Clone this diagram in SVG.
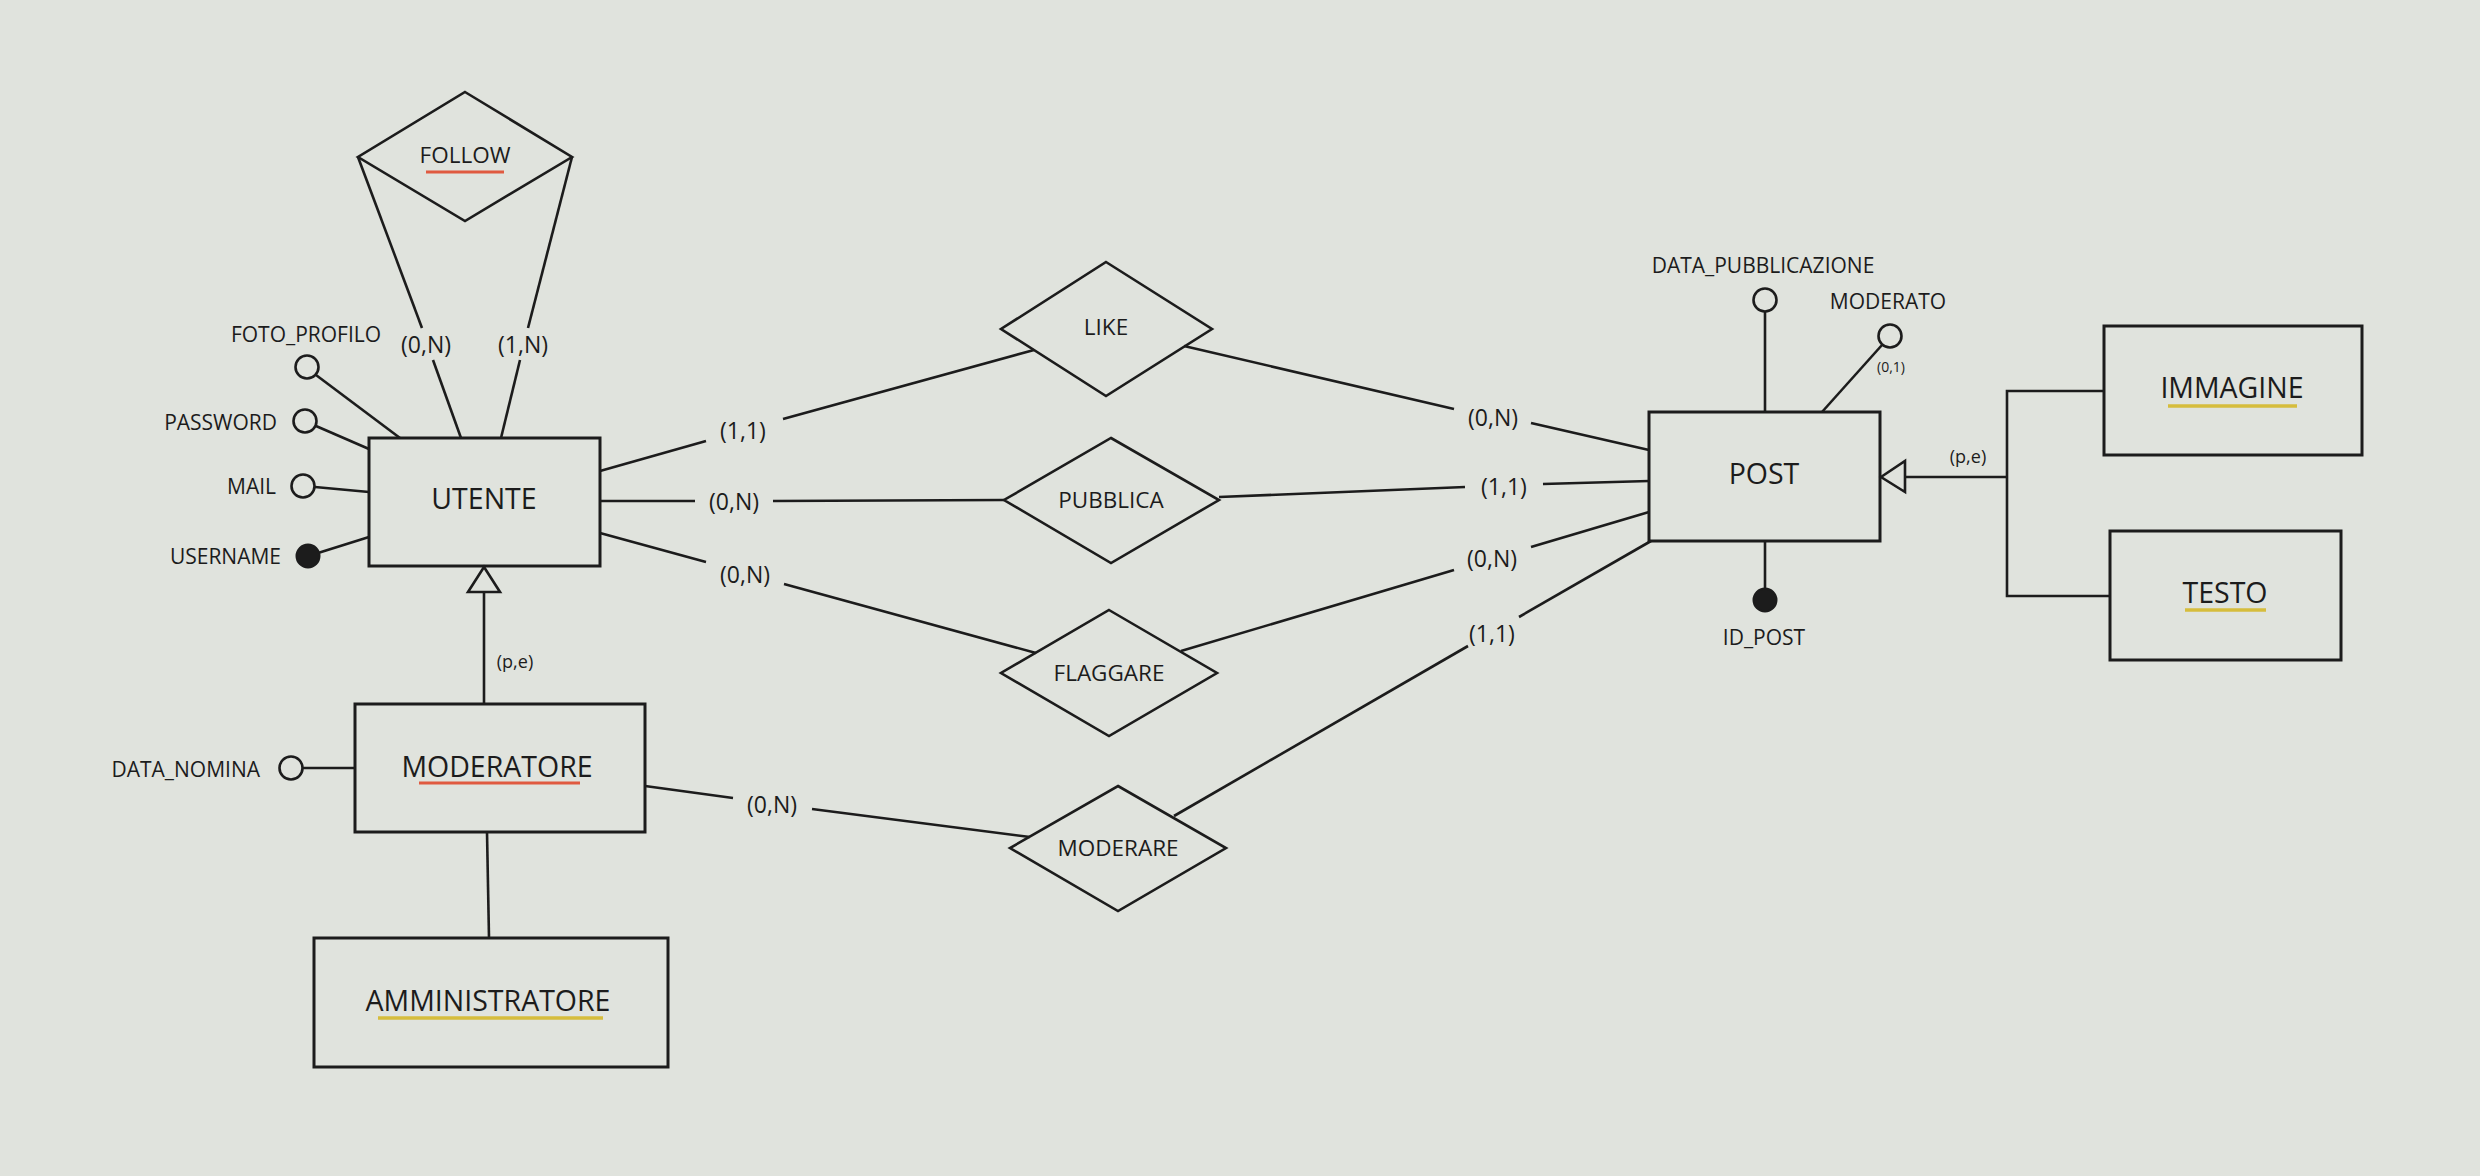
<svg xmlns="http://www.w3.org/2000/svg" width="2480" height="1176" viewBox="0 0 2480 1176">
  <style>
    text { font-family: "Open Sans", "Noto Sans", "Liberation Sans", sans-serif; fill: #1c1c1c; }
    .ent { fill: none; stroke: #1c1c1c; stroke-width: 3; }
    .rel { fill: none; stroke: #1c1c1c; stroke-width: 2.6; stroke-linejoin: miter; }
    .ln { fill: none; stroke: #1c1c1c; stroke-width: 2.6; }
    .attr { fill: none; stroke: #1c1c1c; stroke-width: 2.6; }
    .key { fill: #1c1c1c; stroke: #1c1c1c; stroke-width: 2; }
    .en { font-size: 28.5px; text-anchor: middle; }
    .rn { font-size: 22.5px; text-anchor: middle; }
    .an { font-size: 21px; }
    .card { font-size: 23px; text-anchor: middle; }
    .red { stroke: #e05a40; stroke-width: 3; }
    .yel { stroke: #d6bd3c; stroke-width: 3.5; }
  </style>
  <rect width="2480" height="1176" fill="#e0e3dd"/>

  <!-- connectors -->
  <g id="connectors">
    <!-- FOLLOW ring on UTENTE -->
    <line class="ln" x1="358" y1="157" x2="422" y2="328"/>
    <line class="ln" x1="433" y1="360" x2="461" y2="438"/>
    <line class="ln" x1="572" y1="157" x2="528" y2="328"/>
    <line class="ln" x1="520" y1="360" x2="501" y2="438"/>
    <!-- UTENTE - LIKE -->
    <line class="ln" x1="600" y1="471" x2="706" y2="441"/>
    <line class="ln" x1="783" y1="419" x2="1034" y2="350"/>
    <!-- LIKE - POST -->
    <line class="ln" x1="1184" y1="346" x2="1454" y2="409"/>
    <line class="ln" x1="1531" y1="423" x2="1649" y2="450"/>
    <!-- UTENTE - PUBBLICA -->
    <line class="ln" x1="600" y1="501" x2="695" y2="501"/>
    <line class="ln" x1="773" y1="501" x2="1004" y2="500"/>
    <!-- PUBBLICA - POST -->
    <line class="ln" x1="1219" y1="497" x2="1465" y2="487"/>
    <line class="ln" x1="1543" y1="484" x2="1649" y2="481"/>
    <!-- UTENTE - FLAGGARE -->
    <line class="ln" x1="600" y1="533" x2="706" y2="562"/>
    <line class="ln" x1="784" y1="584" x2="1036" y2="653"/>
    <!-- FLAGGARE - POST -->
    <line class="ln" x1="1181" y1="651" x2="1454" y2="570"/>
    <line class="ln" x1="1531" y1="547" x2="1649" y2="512"/>
    <!-- MODERATORE - MODERARE -->
    <line class="ln" x1="645" y1="786" x2="733" y2="798"/>
    <line class="ln" x1="812" y1="809" x2="1030" y2="837"/>
    <!-- MODERARE - POST -->
    <line class="ln" x1="1174" y1="816" x2="1468" y2="646"/>
    <line class="ln" x1="1519" y1="617" x2="1651" y2="541"/>
    <!-- UTENTE generalisation -->
    <line class="ln" x1="484" y1="592" x2="484" y2="704"/>
    <polygon class="ln" points="484,567 468,592 500,592"/>
    <!-- MODERATORE - AMMINISTRATORE -->
    <line class="ln" x1="487" y1="832" x2="489" y2="938"/>
    <!-- POST generalisation -->
    <polygon class="ln" points="1881,477 1905,461 1905,492"/>
    <line class="ln" x1="1905" y1="477" x2="2007" y2="477"/>
    <polyline class="ln" points="2104,391 2007,391 2007,596 2110,596"/>
  </g>

  <!-- cardinality labels -->
  <g id="cardinalities">
    <text class="card" x="426" y="353">(0,N)</text>
    <text class="card" x="523" y="353">(1,N)</text>
    <text class="card" x="743" y="439">(1,1)</text>
    <text class="card" x="734" y="510">(0,N)</text>
    <text class="card" x="745" y="583">(0,N)</text>
    <text class="card" x="772" y="813">(0,N)</text>
    <text class="card" x="1493" y="426">(0,N)</text>
    <text class="card" x="1504" y="495">(1,1)</text>
    <text class="card" x="1492" y="567">(0,N)</text>
    <text class="card" x="1492" y="642">(1,1)</text>
    <text x="515" y="668" font-size="18" text-anchor="middle">(p,e)</text>
    <text x="1968" y="463" font-size="18" text-anchor="middle">(p,e)</text>
  </g>

  <!-- entities -->
  <g id="utente">
    <rect class="ent" x="369" y="438" width="231" height="128"/>
    <text class="en" x="484" y="509">UTENTE</text>
  </g>
  <g id="moderatore">
    <rect class="ent" x="355" y="704" width="290" height="128"/>
    <text class="en" x="497" y="777" font-size="29.5">MODERATORE</text>
    <line class="red" x1="419" y1="783" x2="580" y2="783"/>
  </g>
  <g id="amministratore">
    <rect class="ent" x="314" y="938" width="354" height="129"/>
    <text class="en" x="488" y="1011" font-size="29.5">AMMINISTRATORE</text>
    <line class="yel" x1="378" y1="1018" x2="603" y2="1018"/>
  </g>
  <g id="post">
    <rect class="ent" x="1649" y="412" width="231" height="129"/>
    <text class="en" x="1764" y="484" font-size="29">POST</text>
  </g>
  <g id="immagine">
    <rect class="ent" x="2104" y="326" width="258" height="129"/>
    <text class="en" x="2232" y="398">IMMAGINE</text>
    <line class="yel" x1="2168" y1="406" x2="2297" y2="406"/>
  </g>
  <g id="testo">
    <rect class="ent" x="2110" y="531" width="231" height="129"/>
    <text class="en" x="2225" y="603">TESTO</text>
    <line class="yel" x1="2185" y1="610" x2="2266" y2="610"/>
  </g>

  <!-- relationships -->
  <g id="follow">
    <polygon class="rel" points="465,92 572,157 465,221 358,157"/>
    <text class="rn" x="465" y="163">FOLLOW</text>
    <line class="red" x1="426" y1="172" x2="504" y2="172"/>
  </g>
  <g id="like">
    <polygon class="rel" points="1106,262 1212,329 1106,396 1001,329"/>
    <text class="rn" x="1106" y="335">LIKE</text>
  </g>
  <g id="pubblica">
    <polygon class="rel" points="1111,438 1219,500 1111,563 1004,500"/>
    <text class="rn" x="1111" y="508">PUBBLICA</text>
  </g>
  <g id="flaggare">
    <polygon class="rel" points="1109,610 1217,673 1109,736 1001,673"/>
    <text class="rn" x="1109" y="681">FLAGGARE</text>
  </g>
  <g id="moderare">
    <polygon class="rel" points="1118,786 1226,848 1118,911 1010,848"/>
    <text class="rn" x="1118" y="856">MODERARE</text>
  </g>

  <!-- attributes -->
  <g id="attr-foto-profilo">
    <line class="ln" x1="316" y1="375" x2="400" y2="438"/>
    <circle class="attr" cx="307" cy="367" r="11.5"/>
    <text class="an" x="306" y="342" text-anchor="middle">FOTO_PROFILO</text>
  </g>
  <g id="attr-password">
    <line class="ln" x1="316" y1="426" x2="369" y2="449"/>
    <circle class="attr" cx="305" cy="421" r="11.5"/>
    <text class="an" x="277" y="430" text-anchor="end">PASSWORD</text>
  </g>
  <g id="attr-mail">
    <line class="ln" x1="315" y1="487" x2="369" y2="492"/>
    <circle class="attr" cx="303" cy="486" r="11.5"/>
    <text class="an" x="276" y="494" text-anchor="end">MAIL</text>
  </g>
  <g id="attr-username">
    <line class="ln" x1="318" y1="553" x2="369" y2="537"/>
    <circle class="key" cx="308" cy="556" r="11.5"/>
    <text class="an" x="281" y="564" text-anchor="end">USERNAME</text>
  </g>
  <g id="attr-data-nomina">
    <line class="ln" x1="303" y1="768" x2="355" y2="768"/>
    <circle class="attr" cx="291" cy="768" r="11.5"/>
    <text class="an" x="260" y="777" text-anchor="end">DATA_NOMINA</text>
  </g>
  <g id="attr-data-pubblicazione">
    <line class="ln" x1="1765" y1="312" x2="1765" y2="412"/>
    <circle class="attr" cx="1765" cy="300" r="11.5"/>
    <text class="an" x="1763" y="273" text-anchor="middle">DATA_PUBBLICAZIONE</text>
  </g>
  <g id="attr-moderato">
    <line class="ln" x1="1882" y1="345" x2="1822" y2="412"/>
    <circle class="attr" cx="1890" cy="336" r="11.5"/>
    <text class="an" x="1888" y="309" text-anchor="middle">MODERATO</text>
    <text x="1891" y="372" font-size="14" text-anchor="middle">(0,1)</text>
  </g>
  <g id="attr-id-post">
    <line class="ln" x1="1765" y1="541" x2="1765" y2="590"/>
    <circle class="key" cx="1765" cy="600" r="11.5"/>
    <text class="an" x="1764" y="645" text-anchor="middle">ID_POST</text>
  </g>
</svg>
